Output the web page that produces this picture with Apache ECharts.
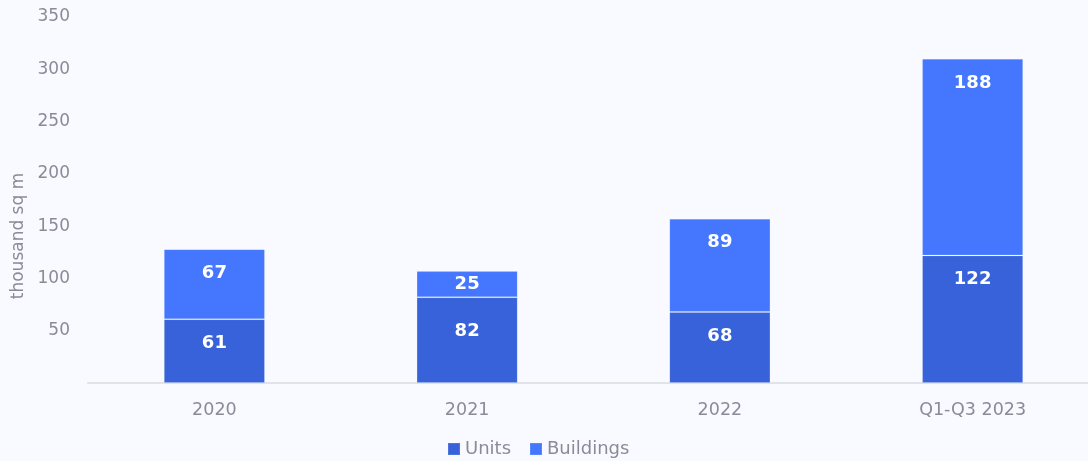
<html>
<head>
    <meta charset="UTF-8">
    <script src="https://cdn.jsdelivr.net/npm/echarts@6/dist/echarts.min.js"></script>
    <style>
        html, body { margin: 0; padding: 0; width: 100%; height: 100%; background: #f9faff; }
    </style>
</head>
<body>
<div id="test" style="width: 1088px;height: 461px;"></div>
<script>
var categories = ['2020', '2021', '2022', 'Q1-Q3 2023'];
var units = [61, 82, 68, 122];
var buildings = [67, 25, 89, 188];
var yTicks = [0, 50, 100, 150, 200, 250, 300, 350];

var myChart = echarts.init(document.getElementById('test'));

var labelStyle = {
    show: true,
    color: '#fff',
    fontFamily: 'DejaVu Sans',
    fontWeight: 'bold',
    fontSize: 18
};

// 标签位置: 顶部偏下，小段居中
function makeItems(values, small) {
    return values.map(function (v, i) {
        var lab = Object.assign({}, labelStyle, { position: 'insideTop', distance: 15 });
        if (v < 40) {
            lab.position = 'inside';
        } else if (small && i === 1) {
            lab.distance = 25;
        }
        return { value: v, label: lab };
    });
}

var option = {
    backgroundColor: '#f9faff',
    textStyle: { fontFamily: 'DejaVu Sans' },
    grid: { left: 88, right: -11, top: 17, bottom: 78, outerBoundsMode: 'none', containLabel: false },
    legend: {
        top: 435,
        left: 442,
        icon: 'rect',
        itemWidth: 12,
        itemHeight: 12,
        itemGap: 18,
        textStyle: { color: '#8a8b99', fontSize: 18, fontFamily: 'DejaVu Sans' },
        data: ['Units', 'Buildings']
    },
    xAxis: {
        type: 'category',
        data: categories,
        axisLine: { lineStyle: { color: '#e1e2ea', width: 2 } },
        axisTick: { show: false },
        axisLabel: { color: '#8a8b99', fontSize: 17.5, margin: 18 }
    },
    yAxis: {
        type: 'value',
        min: yTicks[0],
        max: yTicks[yTicks.length - 1],
        interval: 50,
        name: 'thousand sq m',
        nameLocation: 'middle',
        nameRotate: 90,
        nameGap: 60,
        nameTextStyle: { color: '#8a8b99', fontSize: 17, padding: [0, 72, 0, 0] },
        axisLine: { show: false },
        axisTick: { show: false },
        splitLine: { show: false },
        axisLabel: {
            color: '#8a8b99',
            fontSize: 17,
            margin: 18,
            formatter: function (v) { return v === 0 ? '' : v; }
        }
    },
    series: [
        {
            name: 'Units',
            type: 'bar',
            stack: 'total',
            barWidth: '40%',
            data: makeItems(units, true),
            itemStyle: { color: '#3762d9', borderColor: 'rgba(255,255,255,0.12)', borderWidth: 1 }
        },
        {
            name: 'Buildings',
            type: 'bar',
            stack: 'total',
            data: makeItems(buildings, false),
            itemStyle: { color: '#4577fe', borderColor: 'rgba(255,255,255,0.12)', borderWidth: 1 }
        }
    ]
};
myChart.setOption(option);
</script>
</body>
</html>
